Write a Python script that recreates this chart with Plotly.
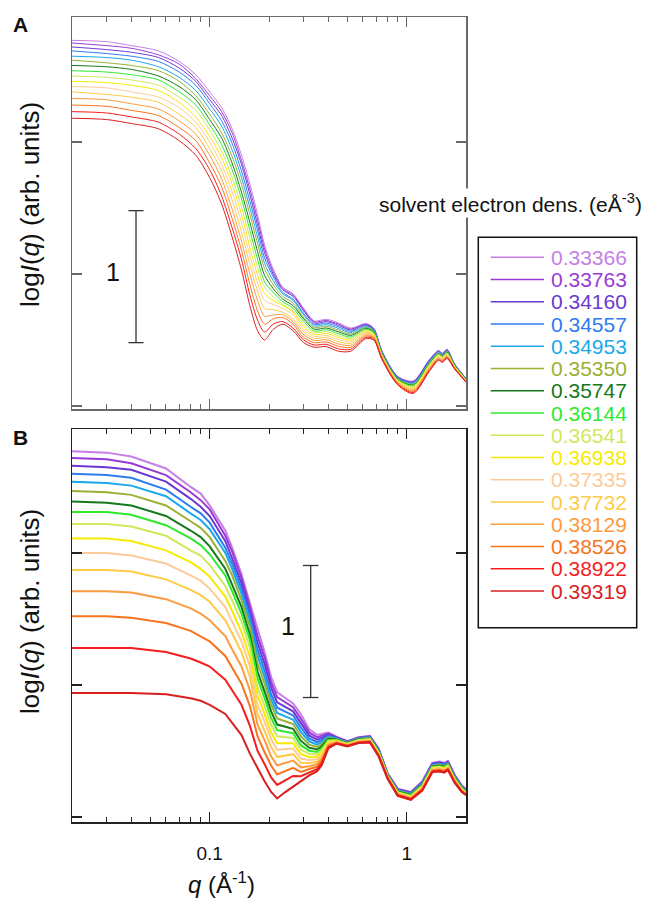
import math
import plotly.graph_objects as go

# ---------------- data ----------------
densities = ["0.33366", "0.33763", "0.34160", "0.34557", "0.34953", "0.35350", "0.35747", "0.36144",
             "0.36541", "0.36938", "0.37335", "0.37732", "0.38129", "0.38526", "0.38922", "0.39319"]
colors = ["#c77ee6", "#9a3ad6", "#6a38d4", "#2d7cf0", "#1aa8ea", "#9cb032", "#15791b", "#2eea2e",
          "#cfe85c", "#f7ea00", "#fdcb9a", "#fdcb45", "#fd9a40", "#f8741c", "#f51d1d", "#d91f1f"]

# Panel A (computed profiles), log I in decades
q_A = [0.02, 0.03, 0.04, 0.055, 0.07, 0.085, 0.1, 0.115, 0.13, 0.145, 0.16, 0.175, 0.19, 0.21, 0.235, 0.265,
       0.3, 0.34, 0.39, 0.45, 0.52, 0.62, 0.68, 0.75, 0.9, 1.08, 1.3, 1.45, 1.52, 1.6, 1.75, 2.0]
A_33366 = [2.77, 2.76, 2.73, 2.69, 2.61, 2.51, 2.38, 2.26, 2.10, 1.90, 1.68, 1.45, 1.22, 1.04, 0.90, 0.85, 0.74, 0.645, 0.657, 0.63, 0.59, 0.625, 0.59, 0.415, 0.225, 0.19, 0.35, 0.42, 0.40, 0.43, 0.32, 0.21]
A_33763 = [2.75, 2.73, 2.71, 2.66, 2.59, 2.48, 2.35, 2.23, 2.07, 1.86, 1.64, 1.41, 1.19, 1.02, 0.89, 0.84, 0.73, 0.637, 0.648, 0.621, 0.583, 0.62, 0.586, 0.412, 0.222, 0.186, 0.346, 0.417, 0.397, 0.427, 0.318, 0.209]
A_34160 = [2.72, 2.70, 2.68, 2.64, 2.56, 2.46, 2.32, 2.20, 2.03, 1.83, 1.60, 1.37, 1.16, 1.00, 0.88, 0.83, 0.72, 0.628, 0.639, 0.612, 0.575, 0.615, 0.582, 0.409, 0.219, 0.182, 0.342, 0.414, 0.394, 0.424, 0.317, 0.207]
A_34557 = [2.69, 2.67, 2.65, 2.61, 2.53, 2.43, 2.29, 2.16, 1.99, 1.78, 1.55, 1.33, 1.12, 0.98, 0.86, 0.81, 0.70, 0.617, 0.628, 0.60, 0.566, 0.609, 0.578, 0.406, 0.216, 0.177, 0.338, 0.41, 0.39, 0.42, 0.314, 0.206]
A_34953 = [2.65, 2.64, 2.62, 2.57, 2.49, 2.39, 2.25, 2.12, 1.94, 1.73, 1.50, 1.28, 1.08, 0.95, 0.85, 0.80, 0.69, 0.606, 0.616, 0.588, 0.556, 0.602, 0.572, 0.402, 0.212, 0.171, 0.332, 0.405, 0.386, 0.416, 0.312, 0.204]
A_35350 = [2.62, 2.60, 2.58, 2.54, 2.46, 2.35, 2.21, 2.07, 1.89, 1.68, 1.45, 1.23, 1.04, 0.92, 0.83, 0.78, 0.67, 0.594, 0.604, 0.575, 0.545, 0.596, 0.567, 0.398, 0.208, 0.166, 0.327, 0.401, 0.382, 0.412, 0.31, 0.202]
A_35747 = [2.58, 2.57, 2.55, 2.50, 2.42, 2.32, 2.17, 2.03, 1.84, 1.62, 1.39, 1.17, 0.99, 0.89, 0.81, 0.76, 0.66, 0.582, 0.591, 0.562, 0.535, 0.589, 0.561, 0.394, 0.204, 0.16, 0.321, 0.396, 0.378, 0.408, 0.307, 0.20]
A_36144 = [2.54, 2.53, 2.51, 2.47, 2.38, 2.28, 2.13, 1.98, 1.79, 1.57, 1.33, 1.11, 0.94, 0.86, 0.79, 0.74, 0.64, 0.568, 0.578, 0.548, 0.523, 0.581, 0.556, 0.39, 0.20, 0.154, 0.316, 0.391, 0.373, 0.403, 0.305, 0.199]
A_36541 = [2.50, 2.49, 2.47, 2.43, 2.34, 2.24, 2.09, 1.93, 1.73, 1.51, 1.27, 1.05, 0.90, 0.83, 0.77, 0.72, 0.62, 0.555, 0.564, 0.533, 0.511, 0.573, 0.55, 0.386, 0.196, 0.147, 0.31, 0.386, 0.369, 0.399, 0.302, 0.197]
A_36938 = [2.46, 2.45, 2.43, 2.39, 2.30, 2.19, 2.04, 1.88, 1.68, 1.45, 1.20, 0.99, 0.85, 0.80, 0.76, 0.71, 0.60, 0.541, 0.55, 0.519, 0.499, 0.565, 0.543, 0.381, 0.191, 0.141, 0.303, 0.381, 0.364, 0.394, 0.299, 0.194]
A_37335 = [2.42, 2.41, 2.38, 2.34, 2.26, 2.15, 2.00, 1.83, 1.62, 1.39, 1.14, 0.93, 0.80, 0.77, 0.74, 0.69, 0.58, 0.527, 0.535, 0.503, 0.487, 0.557, 0.537, 0.377, 0.187, 0.134, 0.297, 0.376, 0.359, 0.389, 0.296, 0.192]
A_37732 = [2.38, 2.36, 2.34, 2.30, 2.21, 2.11, 1.95, 1.78, 1.56, 1.32, 1.07, 0.87, 0.74, 0.73, 0.71, 0.66, 0.56, 0.512, 0.52, 0.487, 0.474, 0.549, 0.53, 0.372, 0.182, 0.127, 0.29, 0.37, 0.354, 0.384, 0.293, 0.19]
A_38129 = [2.33, 2.32, 2.29, 2.25, 2.16, 2.06, 1.90, 1.72, 1.49, 1.25, 1.00, 0.80, 0.68, 0.69, 0.69, 0.64, 0.54, 0.496, 0.503, 0.47, 0.46, 0.539, 0.523, 0.367, 0.177, 0.119, 0.283, 0.364, 0.348, 0.378, 0.29, 0.188]
A_38526 = [2.28, 2.27, 2.24, 2.20, 2.11, 2.01, 1.84, 1.66, 1.42, 1.18, 0.92, 0.72, 0.62, 0.66, 0.67, 0.62, 0.52, 0.479, 0.486, 0.452, 0.445, 0.53, 0.515, 0.361, 0.171, 0.111, 0.275, 0.358, 0.342, 0.372, 0.287, 0.185]
A_38922 = [2.23, 2.22, 2.19, 2.15, 2.06, 1.95, 1.79, 1.59, 1.35, 1.11, 0.84, 0.65, 0.56, 0.62, 0.64, 0.59, 0.50, 0.462, 0.468, 0.433, 0.43, 0.52, 0.508, 0.356, 0.166, 0.103, 0.268, 0.351, 0.336, 0.366, 0.283, 0.183]
A_39319 = [2.18, 2.17, 2.14, 2.10, 2.01, 1.90, 1.73, 1.53, 1.28, 1.03, 0.76, 0.57, 0.50, 0.58, 0.62, 0.57, 0.48, 0.445, 0.45, 0.415, 0.415, 0.51, 0.50, 0.35, 0.16, 0.095, 0.26, 0.345, 0.33, 0.36, 0.28, 0.18]

# Panel B (experimental profiles)
q_B = [0.02, 0.03, 0.04, 0.06, 0.08, 0.09, 0.1, 0.12, 0.13, 0.145, 0.16, 0.175, 0.19, 0.205, 0.22, 0.24, 0.265, 0.29,
       0.32, 0.35, 0.37, 0.40, 0.44, 0.5, 0.57, 0.65, 0.72, 0.8, 0.9, 1.05, 1.2, 1.35, 1.47, 1.55, 1.62, 1.75, 1.9, 2.0]
B_33366 = [2.77, 2.76, 2.73, 2.64, 2.50, 2.45, 2.36, 2.17, 2.04, 1.84, 1.62, 1.42, 1.25, 1.06, 0.945, 0.905, 0.86, 0.78, 0.665, 0.622, 0.63, 0.64, 0.608, 0.575, 0.605, 0.615, 0.52, 0.33, 0.215, 0.19, 0.27, 0.41, 0.42, 0.41, 0.425, 0.32, 0.24, 0.21]
B_33763 = [2.72, 2.71, 2.68, 2.59, 2.46, 2.40, 2.33, 2.13, 2.01, 1.81, 1.59, 1.37, 1.21, 1.02, 0.908, 0.872, 0.831, 0.746, 0.642, 0.603, 0.614, 0.632, 0.604, 0.572, 0.602, 0.612, 0.516, 0.327, 0.211, 0.186, 0.265, 0.405, 0.415, 0.405, 0.42, 0.316, 0.237, 0.207]
B_34160 = [2.66, 2.65, 2.63, 2.54, 2.41, 2.35, 2.28, 2.09, 1.96, 1.77, 1.55, 1.32, 1.16, 0.98, 0.869, 0.837, 0.80, 0.713, 0.618, 0.585, 0.598, 0.624, 0.601, 0.57, 0.599, 0.608, 0.512, 0.325, 0.208, 0.182, 0.261, 0.401, 0.41, 0.40, 0.416, 0.312, 0.233, 0.204]
B_34557 = [2.60, 2.59, 2.57, 2.48, 2.35, 2.30, 2.23, 2.04, 1.92, 1.73, 1.52, 1.27, 1.11, 0.93, 0.828, 0.801, 0.769, 0.679, 0.595, 0.567, 0.582, 0.616, 0.597, 0.567, 0.596, 0.605, 0.508, 0.322, 0.204, 0.178, 0.256, 0.396, 0.405, 0.395, 0.411, 0.308, 0.23, 0.201]
B_34953 = [2.54, 2.53, 2.51, 2.43, 2.30, 2.25, 2.18, 2.00, 1.88, 1.69, 1.48, 1.22, 1.06, 0.89, 0.788, 0.765, 0.737, 0.645, 0.572, 0.548, 0.566, 0.608, 0.594, 0.564, 0.593, 0.602, 0.504, 0.319, 0.20, 0.174, 0.251, 0.391, 0.40, 0.39, 0.406, 0.304, 0.227, 0.198]
B_35350 = [2.47, 2.46, 2.44, 2.36, 2.24, 2.19, 2.12, 1.94, 1.83, 1.64, 1.44, 1.16, 1.01, 0.85, 0.746, 0.727, 0.704, 0.612, 0.548, 0.53, 0.55, 0.60, 0.59, 0.562, 0.59, 0.598, 0.50, 0.317, 0.197, 0.17, 0.247, 0.387, 0.395, 0.385, 0.402, 0.30, 0.223, 0.195]
B_35747 = [2.39, 2.38, 2.36, 2.28, 2.17, 2.12, 2.05, 1.88, 1.76, 1.59, 1.38, 1.10, 0.95, 0.80, 0.70, 0.686, 0.668, 0.578, 0.525, 0.511, 0.534, 0.592, 0.587, 0.559, 0.587, 0.595, 0.496, 0.314, 0.193, 0.166, 0.242, 0.382, 0.39, 0.38, 0.397, 0.296, 0.22, 0.192]
B_36144 = [2.31, 2.31, 2.29, 2.21, 2.11, 2.06, 1.99, 1.83, 1.71, 1.54, 1.34, 1.05, 0.90, 0.75, 0.658, 0.648, 0.635, 0.544, 0.502, 0.493, 0.518, 0.584, 0.583, 0.556, 0.584, 0.592, 0.492, 0.311, 0.189, 0.162, 0.237, 0.377, 0.385, 0.375, 0.392, 0.292, 0.217, 0.189]
B_36541 = [2.22, 2.22, 2.20, 2.13, 2.02, 1.98, 1.91, 1.75, 1.64, 1.48, 1.28, 0.98, 0.84, 0.70, 0.611, 0.606, 0.599, 0.511, 0.478, 0.474, 0.502, 0.576, 0.58, 0.554, 0.581, 0.588, 0.488, 0.309, 0.186, 0.158, 0.233, 0.373, 0.38, 0.37, 0.388, 0.288, 0.213, 0.186]
B_36938 = [2.11, 2.11, 2.09, 2.02, 1.93, 1.88, 1.82, 1.67, 1.56, 1.40, 1.21, 0.92, 0.78, 0.64, 0.559, 0.56, 0.558, 0.477, 0.455, 0.456, 0.486, 0.568, 0.576, 0.551, 0.578, 0.585, 0.484, 0.306, 0.182, 0.154, 0.228, 0.368, 0.375, 0.365, 0.383, 0.284, 0.21, 0.183]
B_37335 = [2.00, 2.00, 1.98, 1.92, 1.83, 1.79, 1.73, 1.59, 1.48, 1.33, 1.14, 0.85, 0.72, 0.59, 0.509, 0.515, 0.519, 0.443, 0.432, 0.437, 0.47, 0.56, 0.573, 0.548, 0.575, 0.582, 0.48, 0.303, 0.178, 0.15, 0.223, 0.363, 0.37, 0.36, 0.378, 0.28, 0.207, 0.18]
B_37732 = [1.87, 1.87, 1.86, 1.80, 1.72, 1.68, 1.63, 1.49, 1.39, 1.25, 1.06, 0.78, 0.65, 0.53, 0.454, 0.466, 0.476, 0.41, 0.408, 0.419, 0.454, 0.552, 0.569, 0.546, 0.572, 0.578, 0.476, 0.301, 0.175, 0.146, 0.219, 0.359, 0.365, 0.355, 0.374, 0.276, 0.203, 0.177]
B_38129 = [1.71, 1.71, 1.70, 1.65, 1.58, 1.54, 1.49, 1.37, 1.27, 1.14, 0.96, 0.70, 0.58, 0.46, 0.391, 0.41, 0.427, 0.376, 0.385, 0.40, 0.438, 0.544, 0.566, 0.543, 0.569, 0.575, 0.472, 0.298, 0.171, 0.142, 0.214, 0.354, 0.36, 0.35, 0.369, 0.272, 0.20, 0.174]
B_38526 = [1.52, 1.52, 1.51, 1.47, 1.41, 1.37, 1.33, 1.22, 1.13, 1.01, 0.84, 0.61, 0.49, 0.39, 0.322, 0.348, 0.372, 0.342, 0.362, 0.382, 0.422, 0.536, 0.562, 0.54, 0.566, 0.572, 0.468, 0.295, 0.167, 0.138, 0.209, 0.349, 0.355, 0.345, 0.364, 0.268, 0.197, 0.171]
B_38922 = [1.28, 1.28, 1.28, 1.25, 1.20, 1.17, 1.14, 1.04, 0.96, 0.85, 0.69, 0.50, 0.40, 0.30, 0.243, 0.277, 0.311, 0.309, 0.338, 0.363, 0.406, 0.528, 0.559, 0.538, 0.563, 0.568, 0.464, 0.293, 0.164, 0.134, 0.205, 0.345, 0.35, 0.34, 0.36, 0.264, 0.193, 0.168]
B_39319 = [0.94, 0.94, 0.94, 0.93, 0.90, 0.88, 0.85, 0.78, 0.71, 0.62, 0.48, 0.37, 0.27, 0.19, 0.14, 0.185, 0.23, 0.275, 0.315, 0.345, 0.39, 0.52, 0.555, 0.535, 0.56, 0.565, 0.46, 0.29, 0.16, 0.13, 0.20, 0.34, 0.345, 0.335, 0.355, 0.26, 0.19, 0.165]

A_series = [A_33366, A_33763, A_34160, A_34557, A_34953, A_35350, A_35747, A_36144,
            A_36541, A_36938, A_37335, A_37732, A_38129, A_38526, A_38922, A_39319]
B_series = [B_33366, B_33763, B_34160, B_34557, B_34953, B_35350, B_35747, B_36144,
            B_36541, B_36938, B_37335, B_37732, B_38129, B_38526, B_38922, B_39319]

major_ticks = [0.1, 1]
major_labels = ["0.1", "1"]
minor_ticks = [0.02, 0.03, 0.04, 0.05, 0.06, 0.07, 0.08, 0.09, 0.2, 0.3, 0.4, 0.5, 0.6, 0.7, 0.8, 0.9, 2]

# ---------------- figure ----------------
W, H = 646, 899
L, R, T, B = 72, 466, 17, 822
FONT = "Liberation Sans, Arial, Helvetica, sans-serif"


def px(xp):
    return (xp - L) / (R - L)


def py(yp):
    return (B - yp) / (B - T)


fig = go.Figure()
for name, col, ys in zip(densities, colors, A_series):
    fig.add_trace(go.Scatter(x=q_A, y=ys, mode="lines", name=name,
                             line=dict(color=col, width=1, shape="spline", smoothing=0.8),
                             xaxis="x", yaxis="y", showlegend=False, hoverinfo="skip"))
for name, col, ys in zip(densities, colors, B_series):
    fig.add_trace(go.Scatter(x=q_B, y=ys, mode="lines", name=name,
                             line=dict(color=col, width=2),
                             xaxis="x2", yaxis="y2", showlegend=False, hoverinfo="skip"))

# scale bars (one decade of intensity)
bar_col = "#333333"
qa = 0.04226
fig.add_trace(go.Scatter(x=[qa, qa, None, qa / 1.092, qa * 1.092, None, qa / 1.092, qa * 1.092],
                         y=[0.48, 1.48, None, 0.48, 0.48, None, 1.48, 1.48],
                         mode="lines", line=dict(color=bar_col, width=1.3),
                         xaxis="x", yaxis="y", showlegend=False, hoverinfo="skip"))
qb = 0.3256
fig.add_trace(go.Scatter(x=[qb, qb, None, qb / 1.095, qb * 1.095, None, qb / 1.095, qb * 1.095],
                         y=[0.905, 1.905, None, 0.905, 0.905, None, 1.905, 1.905],
                         mode="lines", line=dict(color=bar_col, width=1.3),
                         xaxis="x2", yaxis="y2", showlegend=False, hoverinfo="skip"))

xrange = [math.log10(0.02), math.log10(2)]


def xaxis_cfg(linecol, show_labels, anchor):
    return dict(type="log", range=xrange, domain=[0, 1], anchor=anchor, automargin=False,
                showline=True, linecolor=linecol, linewidth=1.5, mirror="ticks",
                ticks="inside", ticklen=10, tickwidth=1.2, tickcolor=linecol,
                tickmode="array", tickvals=major_ticks, ticktext=major_labels,
                showticklabels=show_labels, tickfont=dict(family=FONT, size=19, color="#111"),
                ticklabelstandoff=14,
                minor=dict(ticks="inside", ticklen=5, tickwidth=1, tickcolor=linecol,
                           tickmode="array", tickvals=minor_ticks, showgrid=False),
                showgrid=False, zeroline=False)


def yaxis_cfg(linecol, rng, dom, anchor):
    return dict(range=rng, domain=dom, anchor=anchor, automargin=False,
                showline=True, linecolor=linecol, linewidth=1.5, mirror="ticks",
                ticks="inside", ticklen=10, tickwidth=1.2, tickcolor=linecol,
                tickmode="array", tickvals=[0, 1, 2], showticklabels=False,
                showgrid=False, zeroline=False)


fig.update_layout(
    width=W, height=H,
    margin=dict(l=L, r=W - R, t=T, b=H - B, pad=0),
    paper_bgcolor="white", plot_bgcolor="white",
    font=dict(family=FONT, color="#111"),
    xaxis=xaxis_cfg("#6a6a6a", False, "y"),
    yaxis=yaxis_cfg("#6a6a6a", [-0.0227, 2.947], [py(409), 1.0], "x"),
    xaxis2=xaxis_cfg("#222222", True, "y2"),
    yaxis2=yaxis_cfg("#222222", [-0.038, 2.939], [0.0, py(429)], "x2"),
)


def note(text, x, y, size, xref="paper", yref="paper", **kw):
    d = dict(text=text, x=x, y=y, xref=xref, yref=yref, showarrow=False,
             xanchor=kw.pop("xanchor", "center"), yanchor=kw.pop("yanchor", "middle"),
             font=dict(size=size, family=FONT, color=kw.pop("color", "#111")))
    d.update(kw)
    return d


ann = []
# panel letters
ann.append(note("<b>A</b>", px(20.5), py(25), 21))
ann.append(note("<b>B</b>", px(20.5), py(437), 21))
# y-axis labels
ylab = "log<i>I</i>(<i>q</i>) (arb. units)"
ann.append(note(ylab, px(30), py(205), 26, textangle=-90))
ann.append(note(ylab, px(30), py(612), 26, textangle=-90))
# x-axis label
ann.append(note("<i>q</i> (Å<sup>-1</sup>)", px(221), py(883), 24))
# scale bar labels
ann.append(note("1", math.log10(0.0323), 1.015, 25, xref="x", yref="y"))
ann.append(note("1", math.log10(0.2504), 1.449, 25, xref="x2", yref="y2"))
# legend title
ann.append(note("solvent electron dens. (eÅ<sup>-3</sup>)", px(510.5), py(203), 21, bgcolor="white"))

shapes = []
# legend box
shapes.append(dict(type="rect", xref="paper", yref="paper",
                   x0=px(478.3), x1=px(636.7), y0=py(627.7), y1=py(237.3),
                   line=dict(color="#111", width=1.5), fillcolor="rgba(0,0,0,0)"))
for i, (name, col) in enumerate(zip(densities, colors)):
    yrow = 257.3 + 22.25 * i
    shapes.append(dict(type="line", xref="paper", yref="paper",
                       x0=px(490.7), x1=px(544), y0=py(yrow), y1=py(yrow),
                       line=dict(color=col, width=1.5)))
    ann.append(note(name, px(549), py(yrow), 21, xanchor="left", color=col))

fig.update_layout(annotations=ann, shapes=shapes)
fig.write_html("out.html", config={"displayModeBar": False, "staticPlot": True},
               post_script="document.body.style.margin='0px';")
